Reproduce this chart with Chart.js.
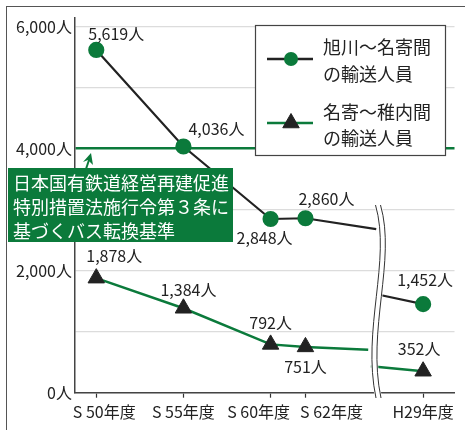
<!DOCTYPE html>
<html lang="ja">
<head>
<meta charset="utf-8">
<script src="https://cdn.jsdelivr.net/npm/chart.js@4.4.1/dist/chart.umd.min.js"></script>
<style>
    html, body { margin: 0; padding: 0; background: #fff; }
    #wrap { position: relative; width: 465px; height: 430px; overflow: hidden; }
    #frame { position: absolute; left: 6px; top: 6px; width: 470px; height: 440px; border: 1.5px solid #555; box-sizing: border-box; }
    canvas { position: absolute; left: 0; top: 0; }
</style>
</head>
<body>
<div id="wrap">
    <div id="frame"></div>
    <canvas id="chart" width="465" height="430"></canvas>
</div>
<script>
/* データ */
const yearLabels = ['S 50年度', 'S 55年度', 'S 60年度', 'S 62年度', 'H29年度'];
const yearPos = [0, 5, 10, 12, 18.75];          // 横位置（H29は軸の中断の後）
const asahikawaNayoro = [5619, 4036, 2848, 2860, 1452];
const nayoroWakkanai = [1878, 1384, 792, 751, 352];
const yTickLabels = [0, 2000, 4000, 6000];
const busStandard = 4000;

// 中断記号の前後で線が切れる位置と値
const asahikawaBreakPos = [16.06, 16.15];
const asahikawaBreakVal = [2683, 1610];
const wakkanaiBreakPos = [15.6, 15.75];
const wakkanaiBreakVal = [705, 435];

// ラベルの位置（点・目盛からのずれ）
const asahikawaLabelOffsets = [[20, -16], [33, -18], [-6, 19], [21, -19], [2, -24]];
const wakkanaiLabelOffsets = [[18, -22], [5, -18], [0, -21], [0, 20], [-4, -22]];
const yearLabelOffsets = [8, 0, -12, 26, 0];

const GREEN = '#0b7a3b';
const DARK = '#222';
const FONT = '"Noto Sans CJK JP", "Noto Sans", sans-serif';

const REAL_INDEX = [0, 1, 2, 3, 7];

function buildPoints(values, breakPos, breakVal) {
    const pts = [];
    for (let i = 0; i < 4; i++) pts.push({ x: yearPos[i], y: values[i] });
    pts.push({ x: breakPos[0], y: breakVal[0] });
    pts.push({ x: (breakPos[0] + breakPos[1]) / 2, y: null });
    pts.push({ x: breakPos[1], y: breakVal[1] });
    pts.push({ x: yearPos[4], y: values[4] });
    return pts;
}

const pointSize = (r) => (ctx) => REAL_INDEX.includes(ctx.dataIndex) ? r : 0;

/* 中断記号 */
const breakMarkPlugin = {
    id: 'breakMark',
    afterDatasetsDraw(chart) {
        const ctx = chart.ctx;
        const path = (dx) => {
            ctx.beginPath();
            ctx.moveTo(378 + dx, 205);
            ctx.bezierCurveTo(394 + dx, 260, 364 + dx, 330, 378.5 + dx, 398);
        };
        ctx.save();
        path(0);
        ctx.strokeStyle = '#fff';
        ctx.lineWidth = 7;
        ctx.stroke();
        ctx.strokeStyle = '#333';
        ctx.lineWidth = 1;
        path(-2.5); ctx.stroke();
        path(2.5); ctx.stroke();
        ctx.restore();
    }
};

/* 数値ラベルと年度ラベル */
const labelPlugin = {
    id: 'labels',
    afterDatasetsDraw(chart) {
        const ctx = chart.ctx;
        const sets = [
            [asahikawaNayoro, asahikawaLabelOffsets],
            [nayoroWakkanai, wakkanaiLabelOffsets],
        ];
        ctx.save();
        ctx.font = '16px ' + FONT;
        ctx.fillStyle = DARK;
        ctx.textAlign = 'center';
        ctx.textBaseline = 'middle';
        sets.forEach(([values, offsets], d) => {
            const meta = chart.getDatasetMeta(d);
            REAL_INDEX.forEach((idx, i) => {
                const el = meta.data[idx];
                ctx.fillText(values[i].toLocaleString() + '人', el.x + offsets[i][0], el.y + offsets[i][1]);
            });
        });

        const xScale = chart.scales.x;
        yearLabels.forEach((label, i) => {
            const x = xScale.getPixelForValue(yearPos[i]) + yearLabelOffsets[i];
            ctx.fillText(label, x, xScale.top + 19);
        });
        ctx.restore();
    }
};

/* 凡例と注記 */
const boxesPlugin = {
    id: 'boxes',
    afterDraw(chart) {
        const ctx = chart.ctx;
        ctx.save();

        // 凡例
        ctx.fillStyle = '#fff';
        ctx.strokeStyle = '#444';
        ctx.lineWidth = 1.2;
        ctx.fillRect(255.5, 25.5, 190, 130);
        ctx.strokeRect(255.5, 25.5, 190, 130);

        ctx.lineWidth = 2.5;
        ctx.strokeStyle = DARK;
        ctx.beginPath(); ctx.moveTo(267, 59); ctx.lineTo(313, 59); ctx.stroke();
        ctx.fillStyle = GREEN;
        ctx.beginPath(); ctx.arc(291, 59, 7, 0, Math.PI * 2); ctx.fill();

        ctx.strokeStyle = GREEN;
        ctx.beginPath(); ctx.moveTo(267, 123); ctx.lineTo(313, 123); ctx.stroke();
        ctx.fillStyle = DARK;
        ctx.strokeStyle = DARK;
        ctx.lineWidth = 1;
        Chart.helpers.drawPoint(ctx, { pointStyle: 'triangle', radius: 9.5, borderWidth: 1 }, 291, 123);

        ctx.font = '18px ' + FONT;
        ctx.fillStyle = DARK;
        ctx.textAlign = 'left';
        ctx.textBaseline = 'middle';
        ctx.fillText('旭川〜名寄間', 323, 47);
        ctx.fillText('の輸送人員', 323, 74);
        ctx.fillText('名寄〜稚内間', 323, 112);
        ctx.fillText('の輸送人員', 323, 138);

        // 矢印
        ctx.fillStyle = GREEN;
        ctx.strokeStyle = GREEN;
        ctx.lineWidth = 2;
        ctx.beginPath(); ctx.moveTo(86, 169); ctx.lineTo(89, 160); ctx.stroke();
        ctx.beginPath();
        ctx.moveTo(91, 153); ctx.lineTo(83, 162); ctx.lineTo(88, 160); ctx.lineTo(93, 165);
        ctx.closePath(); ctx.fill();

        // バス転換基準の注記
        ctx.fillStyle = GREEN;
        ctx.fillRect(8, 168, 225, 74);
        ctx.fillStyle = '#fff';
        ctx.font = '18px ' + FONT;
        ctx.fillText('日本国有鉄道経営再建促進', 13, 183);
        ctx.fillText('特別措置法施行令第３条に', 13, 207);
        ctx.fillText('基づくバス転換基準', 13, 231);

        ctx.restore();
    }
};

new Chart(document.getElementById('chart').getContext('2d'), {
    type: 'line',
    data: {
        datasets: [
            {
                label: '旭川〜名寄間の輸送人員',
                data: buildPoints(asahikawaNayoro, asahikawaBreakPos, asahikawaBreakVal),
                borderColor: DARK,
                borderWidth: 2.2,
                backgroundColor: GREEN,
                pointBackgroundColor: GREEN,
                pointBorderColor: GREEN,
                pointRadius: pointSize(7),
                pointStyle: 'circle',
                spanGaps: false,
                tension: 0,
            },
            {
                label: '名寄〜稚内間の輸送人員',
                data: buildPoints(nayoroWakkanai, wakkanaiBreakPos, wakkanaiBreakVal),
                borderColor: GREEN,
                borderWidth: 2.5,
                backgroundColor: DARK,
                pointBackgroundColor: DARK,
                pointBorderColor: DARK,
                pointBorderWidth: 1,
                pointRadius: pointSize(9.5),
                pointStyle: 'triangle',
                spanGaps: false,
                tension: 0,
            },
        ],
    },
    options: {
        responsive: false,
        animation: false,
        layout: { padding: { top: 18, right: 1, left: 0, bottom: 0 } },
        plugins: {
            legend: { display: false },
            tooltip: { enabled: false },
        },
        scales: {
            x: {
                type: 'linear',
                min: -1.22,
                max: 20.55,
                afterBuildTicks: (scale) => { scale.ticks = yearPos.map(v => ({ value: v })); },
                afterFit: (scale) => {
                    scale.height = 37.3;
                    scale.paddingLeft = 0;
                    scale.paddingRight = 0;
                },
                grid: { drawOnChartArea: false, drawTicks: true, tickLength: 5, tickColor: '#333', tickWidth: 1.2 },
                border: { color: '#444', width: 1.5 },
                ticks: { display: false },
            },
            y: {
                min: 0,
                max: 6143,
                afterBuildTicks: (scale) => {
                    const ticks = [];
                    for (let v = 0; v <= 6000; v += 1000) ticks.push({ value: v });
                    scale.ticks = ticks;
                },
                afterFit: (scale) => {
                    scale.width = 75;
                    scale.paddingTop = 0;
                    scale.paddingBottom = 0;
                },
                grid: {
                    drawTicks: false,
                    color: (ctx) => ctx.tick && ctx.tick.value === busStandard ? GREEN : '#dcdcdc',
                    lineWidth: (ctx) => ctx.tick && ctx.tick.value === busStandard ? 2.5 : 1.2,
                },
                border: { color: '#444', width: 1.5 },
                ticks: {
                    padding: 3,
                    color: DARK,
                    font: { family: FONT, size: 16 },
                    callback: (v) => yTickLabels.includes(v) ? v.toLocaleString() + '人' : '',
                },
            },
        },
    },
    plugins: [breakMarkPlugin, labelPlugin, boxesPlugin],
});
</script>
</body>
</html>
